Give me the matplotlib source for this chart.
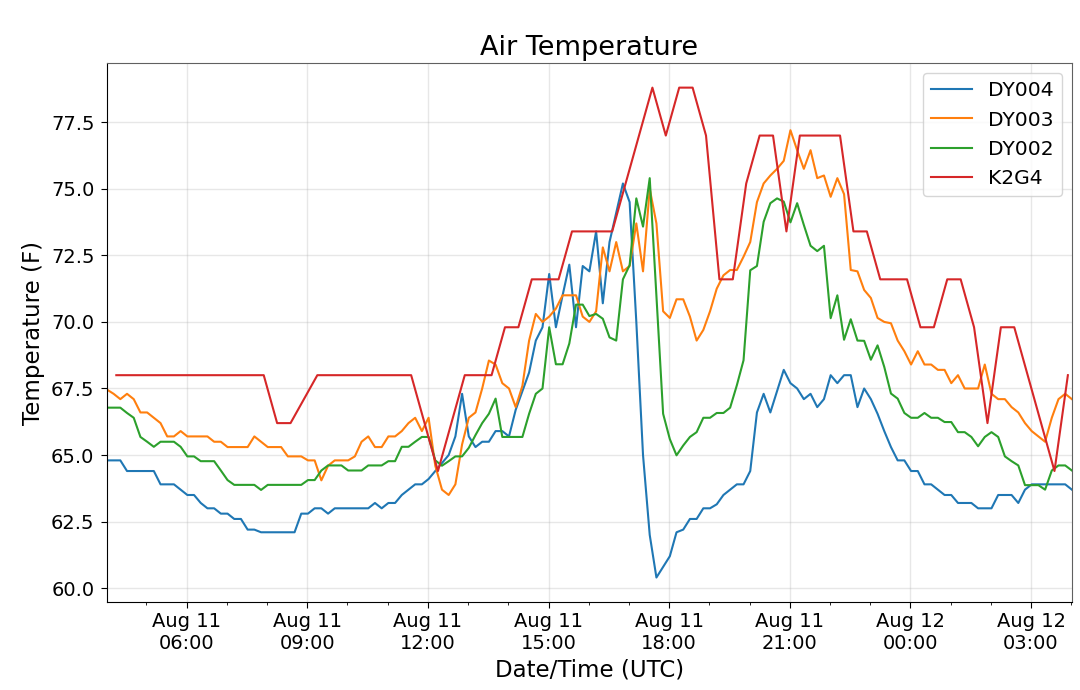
import matplotlib
matplotlib.use("Agg")
import matplotlib.pyplot as plt
import matplotlib.dates as mdates
import pandas as pd

plt.rcParams['font.family'] = ['DejaVu Sans']

# ---- data ----
dy_start = "2019-08-11 04:01"
dy_times = pd.date_range(dy_start, periods=145, freq="10min")

dy004 = [64.8, 64.8, 64.8, 64.4, 64.4, 64.4, 64.4, 64.4, 63.9, 63.9,
         63.9, 63.7, 63.5, 63.5, 63.2, 63.0, 63.0, 62.8, 62.8, 62.6,
         62.6, 62.2, 62.2, 62.1, 62.1, 62.1, 62.1, 62.1, 62.1, 62.8,
         62.8, 63.0, 63.0, 62.8, 63.0, 63.0, 63.0, 63.0, 63.0, 63.0,
         63.2, 63.0, 63.2, 63.2, 63.5, 63.7, 63.9, 63.9, 64.1, 64.4,
         64.7, 65.0, 65.7, 67.3, 65.7, 65.3, 65.5, 65.5, 65.9, 65.9,
         65.7, 66.7, 67.4, 68.1, 69.3, 69.8, 71.8, 69.8, 71.0, 72.15,
         69.8, 72.1, 71.9, 73.4, 70.7, 73.0, 74.1, 75.2, 74.5, 70.0,
         65.0, 62.0, 60.4, 60.8, 61.2, 62.1, 62.2, 62.6, 62.6, 63.0,
         63.0, 63.15, 63.5, 63.7, 63.9, 63.9, 64.4, 66.6, 67.3, 66.6,
         67.4, 68.2, 67.7, 67.5, 67.1, 67.3, 66.8, 67.1, 68.0, 67.7,
         68.0, 68.0, 66.8, 67.5, 67.1, 66.55, 65.9, 65.3, 64.8, 64.8,
         64.4, 64.4, 63.9, 63.9, 63.7, 63.5, 63.5, 63.2, 63.2, 63.2,
         63.0, 63.0, 63.0, 63.5, 63.5, 63.5, 63.2, 63.7, 63.9, 63.9,
         63.9, 63.9, 63.9, 63.9, 63.7]

dy003 = [67.46, 67.3, 67.1, 67.3, 67.1, 66.6, 66.6, 66.4, 66.2, 65.7,
         65.7, 65.9, 65.7, 65.7, 65.7, 65.7, 65.5, 65.5, 65.3, 65.3,
         65.3, 65.3, 65.7, 65.5, 65.3, 65.3, 65.3, 64.95, 64.95, 64.95,
         64.8, 64.8, 64.05, 64.6, 64.8, 64.8, 64.8, 64.95, 65.5, 65.7,
         65.3, 65.3, 65.7, 65.7, 65.9, 66.2, 66.4, 65.9, 66.4, 64.6,
         63.7, 63.5, 63.9, 65.4, 66.4, 66.6, 67.5, 68.55, 68.4, 67.7,
         67.5, 66.8, 67.6, 69.3, 70.3, 70.0, 70.2, 70.5, 71.0, 71.0,
         71.0, 70.2, 70.0, 70.4, 72.8, 71.9, 73.0, 71.9, 72.1, 73.7,
         71.9, 75.0, 73.7, 70.4, 70.15, 70.85, 70.85, 70.2, 69.3, 69.7,
         70.4, 71.25, 71.75, 71.95, 71.95, 72.45, 73.0, 74.5, 75.2, 75.5,
         75.75, 76.05, 77.2, 76.45, 75.75, 76.45, 75.4, 75.5, 74.7, 75.4,
         74.8, 71.95, 71.9, 71.2, 70.9, 70.15, 70.0, 69.95, 69.3, 68.9,
         68.4, 68.9, 68.4, 68.4, 68.2, 68.2, 67.7, 68.0, 67.5, 67.5,
         67.5, 68.4, 67.3, 67.1, 67.1, 66.8, 66.6, 66.2, 65.9, 65.7,
         65.5, 66.4, 67.1, 67.3, 67.1]

dy002 = [66.78, 66.78, 66.78, 66.58, 66.4, 65.68, 65.5, 65.31, 65.5, 65.5,
         65.5, 65.31, 64.95, 64.95, 64.77, 64.77, 64.77, 64.42, 64.06, 63.88,
         63.88, 63.88, 63.88, 63.69, 63.88, 63.88, 63.88, 63.88, 63.88, 63.88,
         64.06, 64.06, 64.42, 64.61, 64.61, 64.61, 64.42, 64.42, 64.42, 64.61,
         64.61, 64.61, 64.77, 64.77, 65.31, 65.31, 65.5, 65.68, 65.68, 64.8,
         64.6, 64.77, 64.95, 64.95, 65.27, 65.75, 66.2, 66.55, 67.12, 65.68,
         65.68, 65.68, 65.68, 66.55, 67.3, 67.5, 69.8, 68.41, 68.41, 69.19,
         70.65, 70.65, 70.22, 70.3, 70.12, 69.42, 69.3, 71.6, 72.13, 74.64,
         73.58, 75.4, 71.0, 66.55, 65.6, 64.99, 65.36, 65.68, 65.86, 66.4,
         66.4, 66.58, 66.58, 66.78, 67.62, 68.56, 71.94, 72.1, 73.76, 74.46,
         74.64, 74.52, 73.74, 74.46, 73.64, 72.86, 72.66, 72.86, 70.14, 71.0,
         69.33, 70.1, 69.3, 69.29, 68.58, 69.12, 68.31, 67.31, 67.12, 66.58,
         66.4, 66.4, 66.58, 66.4, 66.4, 66.24, 66.24, 65.86, 65.86, 65.68,
         65.33, 65.68, 65.86, 65.68, 64.95, 64.77, 64.61, 63.87, 63.87, 63.87,
         63.7, 64.42, 64.61, 64.61, 64.42]

k2g4_times = ["08-11 04:15", "08-11 04:35", "08-11 04:55", "08-11 05:15", "08-11 05:35",
              "08-11 05:55", "08-11 06:15", "08-11 06:35", "08-11 06:55", "08-11 07:15",
              "08-11 07:35", "08-11 07:55", "08-11 08:15", "08-11 08:35", "08-11 09:15",
              "08-11 09:35", "08-11 09:55", "08-11 10:15", "08-11 10:35", "08-11 10:55",
              "08-11 11:15", "08-11 11:35", "08-11 11:55", "08-11 12:15", "08-11 12:35",
              "08-11 12:55", "08-11 13:15", "08-11 13:35", "08-11 13:55", "08-11 14:15",
              "08-11 14:35", "08-11 14:55", "08-11 15:15", "08-11 15:35", "08-11 15:55",
              "08-11 16:15", "08-11 16:35", "08-11 16:55", "08-11 17:15", "08-11 17:35",
              "08-11 17:55", "08-11 18:15", "08-11 18:35", "08-11 18:55", "08-11 19:15",
              "08-11 19:35", "08-11 19:55", "08-11 20:15", "08-11 20:35", "08-11 20:55",
              "08-11 21:15", "08-11 21:35", "08-11 21:55", "08-11 22:15", "08-11 22:35",
              "08-11 22:55", "08-11 23:15", "08-11 23:35", "08-11 23:55", "08-12 00:15",
              "08-12 00:35", "08-12 00:55", "08-12 01:15", "08-12 01:35", "08-12 01:55",
              "08-12 02:15", "08-12 02:35", "08-12 02:55", "08-12 03:15", "08-12 03:35",
              "08-12 03:55"]
k2g4 = [68.0, 68.0, 68.0, 68.0, 68.0, 68.0, 68.0, 68.0, 68.0, 68.0,
        68.0, 68.0, 66.2, 66.2, 68.0, 68.0, 68.0, 68.0, 68.0, 68.0,
        68.0, 68.0, 66.2, 64.4, 66.2, 68.0, 68.0, 68.0, 69.8, 69.8,
        71.6, 71.6, 71.6, 73.4, 73.4, 73.4, 73.4, 75.2, 77.0, 78.8,
        77.0, 78.8, 78.8, 77.0, 71.6, 71.6, 75.2, 77.0, 77.0, 73.4,
        77.0, 77.0, 77.0, 77.0, 73.4, 73.4, 71.6, 71.6, 71.6, 69.8,
        69.8, 71.6, 71.6, 69.8, 66.2, 69.8, 69.8, 68.0, 66.2, 64.4,
        68.0]

series_names = ["DY004", "DY003", "DY002", "K2G4"]

# ---- plot ----
fig = plt.figure(figsize=(10.8, 6.9), dpi=100)
ax = fig.add_axes([0.099, 0.1275, 0.8935, 0.781])

k2g4_dt = pd.to_datetime(["2019-" + t for t in k2g4_times])

ax.plot(dy_times, dy004, color="C0", lw=1.5, label=series_names[0])
ax.plot(dy_times, dy003, color="C1", lw=1.5, label=series_names[1])
ax.plot(dy_times, dy002, color="C2", lw=1.5, label=series_names[2])
ax.plot(k2g4_dt, k2g4, color="C3", lw=1.5, label=series_names[3])

ax.set_xlim(dy_times[0], dy_times[-1])
ax.xaxis.set_major_locator(mdates.HourLocator(byhour=range(0, 24, 3)))
ax.xaxis.set_minor_locator(mdates.HourLocator())
ax.xaxis.set_major_formatter(mdates.DateFormatter("%b %d\n%H:%M"))

ax.grid(True, which="major", color="#b0b0b0", alpha=0.3, lw=1)
ax.tick_params(axis="both", which="major", labelsize=14, length=4)
ax.tick_params(axis="y", which="major", pad=5)

for s in ("top", "right"):
    ax.spines[s].set_color("#606060")

ax.set_title("Air Temperature", fontsize=19.5)
ax.set_xlabel("Date/Time (UTC)", fontsize=16.5)
ax.set_ylabel("Temperature (F)", fontsize=16.5)
ax.legend(loc="upper right", fontsize=14.6)

fig.savefig("out.png", dpi=100)
